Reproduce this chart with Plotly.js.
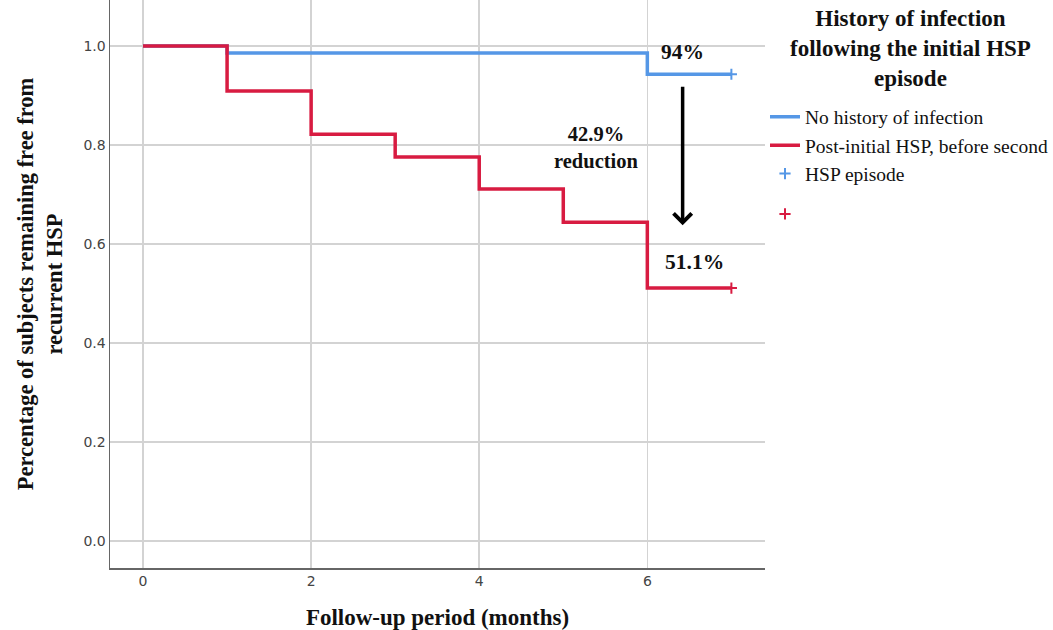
<!DOCTYPE html>
<html>
<head>
<meta charset="utf-8">
<script src="https://cdn.plot.ly/plotly-3.0.1.min.js"></script>
<style>html,body{margin:0;padding:0;background:#fff;}#chart{width:1053px;height:630px;}</style>
</head>
<body>
<div id="chart"></div>
<script>
// Kaplan-Meier step data (months vs proportion free from recurrence)
const noInfMonths = [0, 1, 6, 7];
const noInfSurv   = [1.0, 0.986, 0.943, 0.943];
const postMonths  = [0, 1, 2, 3, 4, 5, 6, 7];
const postSurv    = [1.0, 0.909, 0.822, 0.776, 0.711, 0.644, 0.511, 0.511];
const censorMonth = [7];
const noInfCensor = [0.943];
const postCensor  = [0.511];
const xTicks = [0, 2, 4, 6];
const yTicks = [0.0, 0.2, 0.4, 0.6, 0.8, 1.0];

const blue = '#5597e6';
const red = '#d81b41';
const serif = 'Liberation Serif, Times New Roman, serif';

const traces = [
  {x: noInfMonths, y: noInfSurv, type: 'scatter', mode: 'lines', line: {shape: 'hv', color: blue, width: 3.5}, name: 'No history of infection', legendgroup: 'a'},
  {x: postMonths, y: postSurv, type: 'scatter', mode: 'lines', line: {shape: 'hv', color: red, width: 3.5}, name: 'Post-initial HSP, before second', legendgroup: 'a'},
  {x: censorMonth, y: noInfCensor, type: 'scatter', mode: 'markers', marker: {symbol: 'cross-thin', size: 8, line: {color: blue, width: 2}}, name: 'HSP episode', legendgroup: 'a'},
  {x: censorMonth, y: postCensor, type: 'scatter', mode: 'markers', marker: {symbol: 'cross-thin', size: 8, line: {color: red, width: 2}}, name: ' ', legendgroup: 'b'}
];

const layout = {
  width: 1053, height: 630,
  margin: {l: 110, r: 288, t: 0, b: 62},
  paper_bgcolor: '#fff', plot_bgcolor: '#fff',
  showlegend: true,
  xaxis: {
    range: [-0.393, 7.40], tickvals: xTicks, ticktext: xTicks.map(String),
    showgrid: true, gridcolor: '#d3d3d3', gridwidth: 1.5, zeroline: false,
    showline: true, linecolor: '#666', linewidth: 1.5, ticks: '',
    tickfont: {family: 'DejaVu Sans, sans-serif', size: 14, color: '#444'},
    title: {text: '<b>Follow-up period (months)</b>', font: {family: serif, size: 23, color: '#111'}, standoff: 22}
  },
  yaxis: {
    range: [-0.0545, 1.093], tickvals: yTicks, ticktext: yTicks.map(v => v.toFixed(1)),
    showgrid: true, gridcolor: '#d3d3d3', gridwidth: 1.5, zeroline: false,
    showline: true, linecolor: '#666', linewidth: 1.5, ticks: '',
    tickfont: {family: 'DejaVu Sans, sans-serif', size: 14, color: '#444'},
    title: {text: '<b>Percentage of subjects remaining free from<br>recurrent HSP</b>', font: {family: serif, size: 22.5, color: '#111'}, standoff: 14}
  },
  legend: {
    x: 1.0, xanchor: 'left', y: 0.828, yanchor: 'top',
    font: {family: serif, size: 19.5, color: '#111'},
    tracegroupgap: 12, bgcolor: 'rgba(0,0,0,0)'
  },
  annotations: [
    {x: 1.2214, y: 1, xref: 'paper', yref: 'paper', xanchor: 'center', yanchor: 'top', yshift: -4, text: '<b>History of infection<br>following the initial HSP<br>episode</b>', showarrow: false, align: 'center', font: {family: serif, size: 23, color: '#111'}},
    {x: 6.42, y: 0.988, xref: 'x', yref: 'y', text: '<b>94%</b>', showarrow: false, font: {family: serif, size: 21.5, color: '#111'}},
    {x: 5.40, y: 0.796, xref: 'x', yref: 'y', text: '<b>42.9%<br>reduction</b>', showarrow: false, font: {family: serif, size: 20.5, color: '#111'}},
    {x: 6.56, y: 0.564, xref: 'x', yref: 'y', text: '<b>51.1%</b>', showarrow: false, font: {family: serif, size: 21.5, color: '#111'}},
    {x: 6.42, y: 0.638, ax: 6.42, ay: 0.921, xref: 'x', yref: 'y', axref: 'x', ayref: 'y', text: '', showarrow: true, arrowhead: 4, arrowsize: 1, arrowwidth: 3.5, arrowcolor: '#000'}
  ]
};

Plotly.newPlot('chart', traces, layout, {displayModeBar: false, staticPlot: true});
</script>
</body>
</html>
